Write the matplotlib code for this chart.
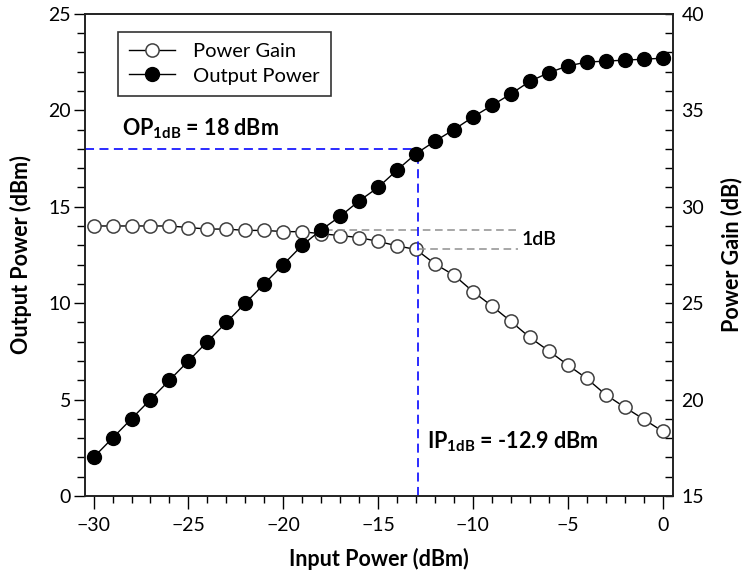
import numpy as np
import matplotlib
matplotlib.use('Agg')
from matplotlib import pyplot as plt
from matplotlib.ticker import MultipleLocator

plt.rcParams['font.family'] = ['Lato', 'DejaVu Sans']
plt.rcParams['mathtext.fontset'] = 'custom'
plt.rcParams['mathtext.rm'] = 'Lato'
plt.rcParams['mathtext.bf'] = 'Lato:bold'

# ---- data
p_in = list(range(-30, 1))
p_out = [2.0, 3.0, 4.0, 5.0, 6.0, 7.0, 8.0, 9.0, 10.0, 11.0, 12.0, 13.0, 13.8, 14.5,
         15.3, 16.0, 16.9, 17.75, 18.4, 19.0, 19.65, 20.25, 20.85, 21.5, 21.95, 22.3,
         22.5, 22.55, 22.6, 22.65, 22.7]
gain = [29.0, 29.0, 29.0, 29.0, 29.0, 28.92, 28.84, 28.84, 28.77, 28.77, 28.71, 28.7,
        28.6, 28.5, 28.4, 28.2, 27.97, 27.78, 27.03, 26.45, 25.6, 24.85, 24.05, 23.22,
        22.52, 21.79, 21.09, 20.25, 19.6, 18.98, 18.35]
ip1db = -12.9
op1db = 18
gain_ref = 28.8
x_ticks = [-30, -25, -20, -15, -10, -5, 0]

fig = plt.figure(figsize=(7.42, 5.78), dpi=100)
ax = fig.add_axes([0.1146, 0.142, 0.7925, 0.834])
ax2 = ax.twinx()
ax.set_zorder(ax2.get_zorder() + 1)
ax.patch.set_visible(False)

ax.set_xlim(-30.45, 0.55)
ax.set_ylim(0, 25)
ax2.set_ylim(15, 40)

l1, = ax2.plot(p_in, gain, color='black', lw=1, marker='o', ms=9.5,
               mfc='white', mec='#404040', mew=1.1, label='Power Gain')
l2, = ax.plot(p_in, p_out, color='black', lw=1, marker='o', ms=10,
              mfc='black', mec='black', label='Output Power')

# 1 dB compression markers
ax.plot([ax.get_xlim()[0], ip1db], [op1db, op1db], color='#1a1aff', lw=1.3, ls=(0, (5, 3)), zorder=1)
ax.plot([ip1db, ip1db], [0, op1db], color='#1a1aff', lw=1.3, ls=(0, (5, 3)), zorder=1)
ax2.plot([-17.8, -7.6], [gain_ref, gain_ref], color='#909090', lw=1.1, ls=(0, (5, 3)))
ax2.plot([ip1db, -7.6], [gain_ref - 1, gain_ref - 1], color='#909090', lw=1.1, ls=(0, (5, 3)))
ax2.text(-7.45, gain_ref - 0.5, '1dB', fontsize=14, fontweight='semibold', va='center', ha='left')

ax.text(-28.5, 18.7, r'OP$_{\mathbf{1dB}}$ = 18 dBm', fontsize=15.5, fontweight='bold')
ax.text(-12.4, 2.8, r'IP$_{\mathbf{1dB}}$ = -12.9 dBm', fontsize=15.5, fontweight='bold', va='center')

ax.set_xticks(x_ticks)
ax.xaxis.set_minor_locator(MultipleLocator(1))
ax.yaxis.set_major_locator(MultipleLocator(5))
ax.yaxis.set_minor_locator(MultipleLocator(1))
ax2.yaxis.set_major_locator(MultipleLocator(5))
ax2.yaxis.set_minor_locator(MultipleLocator(1))

ax.tick_params(axis='x', which='major', direction='out', length=9, width=1, labelsize=14, pad=6)
ax.tick_params(axis='x', which='minor', direction='out', length=5, width=1)
ax.tick_params(axis='y', which='major', direction='out', length=8, width=1, labelsize=14, pad=2)
ax.tick_params(axis='y', which='minor', direction='out', length=6, width=1)
ax2.tick_params(axis='y', which='both', direction='in', length=6, width=1, labelsize=14, pad=6)

for a in (ax, ax2):
    for s in a.spines.values():
        s.set_linewidth(1.2)
        s.set_color('#222222')

ax.set_xlabel('Input Power (dBm)', fontsize=15.5, fontweight='bold', labelpad=10)
ax.set_ylabel('Output Power (dBm)', fontsize=15.5, fontweight='bold', labelpad=12)
ax2.set_ylabel('Power Gain (dB)', fontsize=15.5, fontweight='bold', labelpad=12)

leg = ax.legend(handles=[l1, l2], loc='upper left', bbox_to_anchor=(0.056, 0.962),
                borderaxespad=0, fontsize=14.5, fancybox=False, frameon=True,
                handlelength=2.3, handletextpad=0.9, borderpad=0.55, labelspacing=0.35)
leg.get_frame().set_edgecolor('black')
leg.get_frame().set_linewidth(1.2)

fig.savefig('out.png', dpi=100)
